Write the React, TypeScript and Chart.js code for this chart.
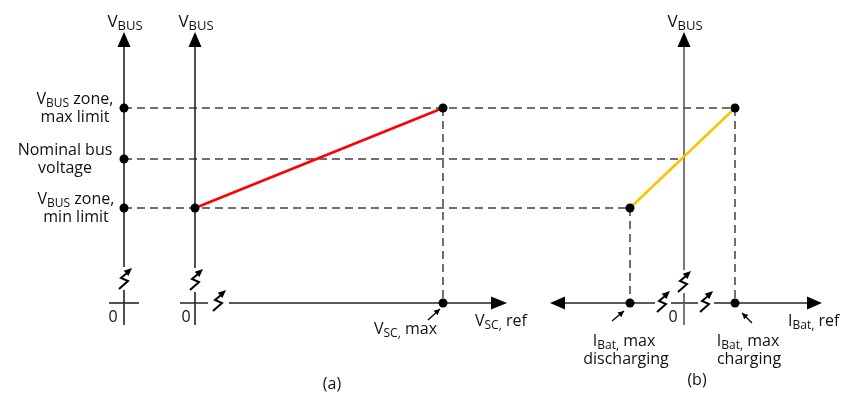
import React, { useEffect, useRef } from "react";
import { Chart, registerables } from "chart.js";

Chart.register(...registerables);

// ---------------- data (schematic units) ----------------
// y = height above the current / voltage reference axes (0 = horizontal axes)
const vbusLevels = [95, 144, 195]; // V_BUS zone min limit, nominal bus voltage, V_BUS zone max limit
const levelLabels = [
  ["V_{BUS} zone,", "min limit"],
  ["Nominal bus", "voltage"],
  ["V_{BUS} zone,", "max limit"],
];
// x positions of the vertical axes: reference V_BUS axis, panel (a) origin, panel (b) origin
const vAxisX = [124, 195, 684];
// panel (a): V_SC,ref at V_BUS min limit (origin) and at V_BUS max limit (V_SC,max)
const vscRef = [195, 443];
// panel (b): I_Bat,ref at max discharging (V_BUS min) and max charging (V_BUS max)
const iBatRef = [630, 735];
// axis extents
const vAxisTop = 271;
const vAxisBottom = -22;
const hAxisA = [180, 507];
const hAxisB = [550, 822];
const axisTitles = ["V_{BUS}", "V_{BUS}", "V_{BUS}"];

const FONT = '"Open Sans", sans-serif';
const TEXT = "#111";

type Part = { t: string; sub: boolean };
function parseRich(s: string): Part[] {
  const parts: Part[] = [];
  const re = /_\{([^}]*)\}/g;
  let last = 0;
  let m: RegExpExecArray | null;
  while ((m = re.exec(s))) {
    if (m.index > last) parts.push({ t: s.slice(last, m.index), sub: false });
    parts.push({ t: m[1], sub: true });
    last = re.lastIndex;
  }
  if (last < s.length) parts.push({ t: s.slice(last), sub: false });
  return parts;
}

function drawRich(
  ctx: CanvasRenderingContext2D,
  s: string,
  x: number,
  y: number,
  size: number,
  align: "left" | "center" | "right"
) {
  const parts = parseRich(s);
  const subSize = Math.round(size * 0.74);
  let w = 0;
  const ws = parts.map((p) => {
    ctx.font = `${p.sub ? subSize : size}px ${FONT}`;
    const mw = ctx.measureText(p.t).width;
    w += mw;
    return mw;
  });
  let cx = align === "left" ? x : align === "center" ? x - w / 2 : x - w;
  ctx.textAlign = "left";
  ctx.textBaseline = "alphabetic";
  ctx.fillStyle = TEXT;
  parts.forEach((p, i) => {
    ctx.font = `${p.sub ? subSize : size}px ${FONT}`;
    ctx.fillText(p.t, cx, p.sub ? y + 3 : y);
    cx += ws[i];
  });
}

function arrowHead(
  ctx: CanvasRenderingContext2D,
  tx: number,
  ty: number,
  fx: number,
  fy: number,
  len: number,
  half: number
) {
  const a = Math.atan2(ty - fy, tx - fx);
  const bx = tx - len * Math.cos(a);
  const by = ty - len * Math.sin(a);
  ctx.beginPath();
  ctx.moveTo(tx, ty);
  ctx.lineTo(bx + half * Math.sin(a), by - half * Math.cos(a));
  ctx.lineTo(bx - half * Math.sin(a), by + half * Math.cos(a));
  ctx.closePath();
  ctx.fill();
}

function breakGlyph(ctx: CanvasRenderingContext2D, cx: number, cy: number) {
  ctx.save();
  ctx.strokeStyle = "#000";
  ctx.fillStyle = "#000";
  ctx.lineWidth = 2;
  ctx.lineCap = "butt";
  ctx.beginPath();
  ctx.moveTo(cx - 6, cy + 10);
  ctx.lineTo(cx + 3, cy + 2);
  ctx.lineTo(cx - 4, cy - 1);
  ctx.lineTo(cx + 2, cy - 6);
  ctx.stroke();
  arrowHead(ctx, cx + 7, cy - 11, cx - 4, cy - 1, 8, 3.5);
  ctx.restore();
}

function seg(points: { x: number; y: number | null }[], color: string, width: number, dash: number[], order: number) {
  return {
    data: points,
    showLine: true,
    spanGaps: false,
    borderColor: color,
    borderWidth: width,
    borderDash: dash,
    pointRadius: 0,
    pointHoverRadius: 0,
    order,
  };
}

export default function App() {
  const ref = useRef<HTMLCanvasElement>(null);

  useEffect(() => {
    const canvas = ref.current;
    if (!canvas) return;
    const [vMin, vNom, vMax] = vbusLevels;
    const AX = "#262626";
    const DASH = "#404040";
    const dash = [8, 5];

    const datasets: any[] = [];
    // points
    datasets.push({
      data: [
        ...vbusLevels.map((y) => ({ x: vAxisX[0], y })),
        { x: vscRef[0], y: vMin },
        { x: vscRef[1], y: vMax },
        { x: vscRef[1], y: 0 },
        { x: iBatRef[0], y: vMin },
        { x: iBatRef[0], y: 0 },
        { x: iBatRef[1], y: vMax },
        { x: iBatRef[1], y: 0 },
      ],
      showLine: false,
      pointRadius: 4.5,
      pointHoverRadius: 4.5,
      pointBackgroundColor: "#000",
      pointBorderWidth: 0,
      order: 0,
    });
    // characteristic lines
    datasets.push(seg([{ x: vscRef[0], y: vMin }, { x: vscRef[1], y: vMax }], "#ff0000", 2.5, [], 1));
    datasets.push(seg([{ x: iBatRef[0], y: vMin }, { x: iBatRef[1], y: vMax }], "#ffc000", 2.5, [], 1));
    // dashed guides
    datasets.push(seg([{ x: vAxisX[0], y: vMax }, { x: iBatRef[1], y: vMax }], DASH, 1.5, dash, 3));
    datasets.push(seg([{ x: vAxisX[0], y: vNom }, { x: vAxisX[2], y: vNom }], DASH, 1.5, dash, 3));
    datasets.push(seg([{ x: vAxisX[0], y: vMin }, { x: iBatRef[0], y: vMin }], DASH, 1.5, dash, 3));
    datasets.push(seg([{ x: vscRef[1], y: vMax }, { x: vscRef[1], y: 0 }], DASH, 1.5, dash, 3));
    datasets.push(seg([{ x: iBatRef[0], y: vMin }, { x: iBatRef[0], y: 0 }], DASH, 1.5, dash, 3));
    datasets.push(seg([{ x: iBatRef[1], y: vMax }, { x: iBatRef[1], y: 0 }], DASH, 1.5, dash, 3));
    // vertical axes (with break gaps)
    const gaps = [[13, 36], [11, 35], [10, 33]];
    vAxisX.forEach((x, i) => {
      datasets.push(
        seg(
          [
            { x, y: vAxisBottom },
            { x, y: gaps[i][0] },
            { x, y: null },
            { x, y: gaps[i][1] },
            { x, y: vAxisTop - 15 },
          ],
          i === 2 ? "#595959" : AX,
          1.6,
          [],
          2
        )
      );
    });
    // reference axis tick at 0
    datasets.push(seg([{ x: vAxisX[0] - 15, y: 0 }, { x: vAxisX[0] + 15, y: 0 }], AX, 1.6, [], 2));
    // horizontal axis (a)
    datasets.push(
      seg(
        [
          { x: hAxisA[0], y: 0 },
          { x: 208, y: 0 },
          { x: 218, y: null },
          { x: 229, y: 0 },
          { x: hAxisA[1] - 15, y: 0 },
        ],
        AX,
        1.6,
        [],
        2
      )
    );
    // horizontal axis (b)
    datasets.push(
      seg(
        [
          { x: hAxisB[0] + 15, y: 0 },
          { x: 655, y: 0 },
          { x: 663, y: null },
          { x: 671, y: 0 },
          { x: 698, y: 0 },
          { x: 706, y: null },
          { x: 714, y: 0 },
          { x: hAxisB[1] - 15, y: 0 },
        ],
        AX,
        1.6,
        [],
        2
      )
    );

    const annot = {
      id: "annot",
      afterDatasetsDraw(chart: any) {
        const ctx: CanvasRenderingContext2D = chart.ctx;
        const sx = chart.scales.x;
        const sy = chart.scales.y;
        const px = (v: number) => sx.getPixelForValue(v);
        const py = (v: number) => sy.getPixelForValue(v);
        ctx.save();
        ctx.fillStyle = "#000";
        // axis arrowheads
        vAxisX.forEach((x) => arrowHead(ctx, px(x), py(vAxisTop), px(x), py(0), 15, 6.5));
        arrowHead(ctx, px(hAxisA[1]), py(0), px(0), py(0), 16, 6.5);
        arrowHead(ctx, px(hAxisB[0]), py(0), px(841), py(0), 15, 6.5);
        arrowHead(ctx, px(hAxisB[1]), py(0), px(0), py(0), 15, 6.5);
        // axis breaks
        breakGlyph(ctx, px(vAxisX[0]) + 1, py(24));
        breakGlyph(ctx, px(vAxisX[1]) + 1, py(23));
        breakGlyph(ctx, px(219), py(2));
        breakGlyph(ctx, px(vAxisX[2]), py(21));
        breakGlyph(ctx, px(663), py(1));
        breakGlyph(ctx, px(706), py(1));
        // pointer arrows
        ctx.strokeStyle = "#000";
        ctx.lineWidth = 1.3;
        const pointer = (fx: number, fy: number, tx: number, ty: number) => {
          ctx.beginPath();
          ctx.moveTo(fx, fy);
          ctx.lineTo(tx, ty);
          ctx.stroke();
          arrowHead(ctx, tx, ty, fx, fy, 6, 3);
        };
        pointer(px(vscRef[1]) - 15, py(0) + 17, px(vscRef[1]) - 3, py(0) + 6);
        pointer(px(iBatRef[0]) - 18, py(0) + 18, px(iBatRef[0]) - 6, py(0) + 8);
        pointer(px(iBatRef[1]) + 17, py(0) + 20, px(iBatRef[1]) + 7, py(0) + 10);
        // axis titles
        vAxisX.forEach((x, i) => drawRich(ctx, axisTitles[i], px(x) + 1, 27, 17, "center"));
        // level labels
        const lx = [76, 65, 75];
        vbusLevels.forEach((v, i) => {
          const y = py(v);
          drawRich(ctx, levelLabels[i][0], lx[i], y - 4, 16, "center");
          drawRich(ctx, levelLabels[i][1], lx[i], y + 14, 16, "center");
        });
        // zeros
        drawRich(ctx, "0", px(vAxisX[0]) - 11, py(0) + 19, 16, "center");
        drawRich(ctx, "0", px(vAxisX[1]) - 9, py(0) + 19, 16, "center");
        drawRich(ctx, "0", px(vAxisX[2]) - 11, py(0) + 19, 16, "center");
        // axis labels (a)
        drawRich(ctx, "V_{SC,} max", px(vscRef[1]) - 6, py(0) + 31, 16, "right");
        drawRich(ctx, "V_{SC,} ref", px(hAxisA[1]) - 32, py(0) + 23, 16, "left");
        // axis labels (b)
        drawRich(ctx, "I_{Bat,} max", px(iBatRef[0]) - 6, py(0) + 43, 16, "center");
        drawRich(ctx, "discharging", px(iBatRef[0]) - 4, py(0) + 61, 16, "center");
        drawRich(ctx, "I_{Bat,} max", px(iBatRef[1]) + 13, py(0) + 43, 16, "center");
        drawRich(ctx, "charging", px(iBatRef[1]) + 14, py(0) + 61, 16, "center");
        drawRich(ctx, "I_{Bat,} ref", px(hAxisB[1]) - 34, py(0) + 23, 16, "left");
        // captions
        drawRich(ctx, "(a)", 332, 389, 16, "center");
        drawRich(ctx, "(b)", 697, 385, 16, "center");
        ctx.restore();
      },
    };

    const chart = new Chart(canvas, {
      type: "scatter",
      data: { datasets },
      options: {
        animation: false,
        responsive: false,
        devicePixelRatio: 1,
        layout: { padding: 0, autoPadding: false },
        events: [],
        plugins: { legend: { display: false }, tooltip: { enabled: false } },
        scales: {
          x: { type: "linear", min: 0, max: 841, display: false },
          y: { type: "linear", min: -93, max: 303, display: false },
        },
      },
      plugins: [annot],
    } as any);
    return () => chart.destroy();
  }, []);

  return (
    <div style={{ position: "absolute", left: 0, top: 0, width: 841, height: 396, background: "#fff" }}>
      <canvas ref={ref} width={841} height={396} style={{ display: "block", width: 841, height: 396 }} />
    </div>
  );
}
